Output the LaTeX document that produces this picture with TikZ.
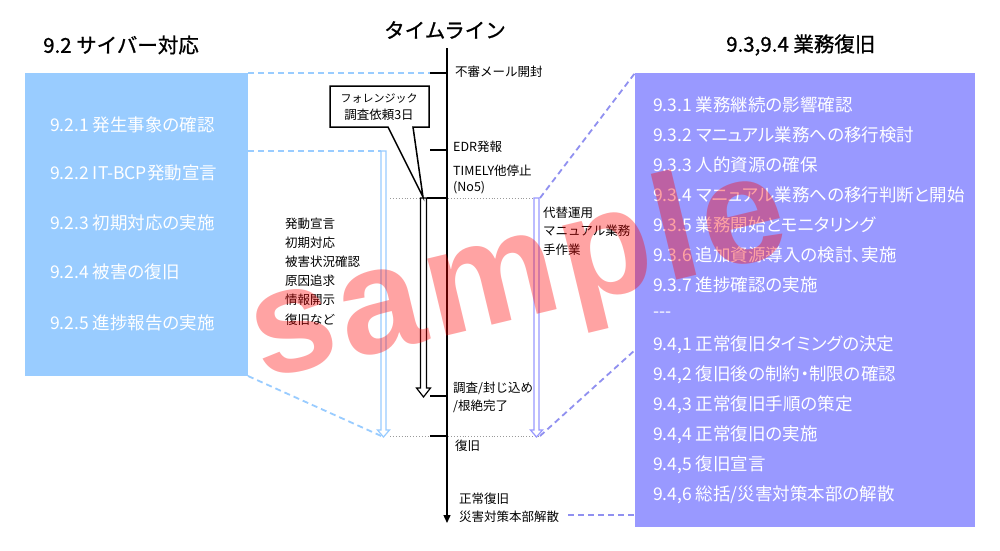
\documentclass[tikz,border=0pt]{standalone}
\usepackage{fontspec}
\setmainfont{Noto Sans CJK JP}
\newfontfamily\boxfont[RawFeature=+palt]{Noto Sans CJK JP}
\newfontfamily\titlefont[FakeBold=1]{Noto Sans CJK JP}
\newfontfamily\wmfont[LetterSpace=4]{Liberation Sans}
\usetikzlibrary{arrows.meta}
\definecolor{lblue}{HTML}{99CCFF}
\definecolor{lpurple}{HTML}{9999FF}
\definecolor{dpurple}{HTML}{9090F0}
\definecolor{dotgray}{HTML}{9A9A9A}
\begin{document}
\begin{tikzpicture}[x=1pt,y=-1pt,
  title/.style={anchor=west,inner sep=0,font=\titlefont\fontsize{20.5}{24}\selectfont},
  boxitem/.style={anchor=west,inner sep=0,text=white,font=\boxfont\fontsize{17.5}{21}\selectfont},
  small/.style={anchor=west,inner sep=0,font=\fontsize{12.5}{15}\selectfont},
  bluedash/.style={draw=lblue,line width=1.8pt,dash pattern=on 6pt off 4pt},
  purpdash/.style={draw=dpurple,line width=1.8pt,dash pattern=on 6pt off 4pt},
  dotline/.style={draw=dotgray,line width=0.9pt,dotted},
  tick/.style={draw=black,line width=1.2pt},
  hollowblue/.style={draw=lblue,fill=white,line width=1.2pt},
  hollowpurp/.style={draw=lpurple,fill=white,line width=1.2pt},
  hollowblack/.style={draw=black,fill=white,line width=1.2pt}
]
\useasboundingbox (0,0) rectangle (1000,550);
\fill[white] (0,0) rectangle (1000,550);

% titles
\node[title] (t1) at (43,45) {9.2 サイバー対応};
\node[title,anchor=center] (t2) at (445,30) {タイムライン};
\node[title] (t3) at (726,45) {9.3,9.4 業務復旧};

% left box
\path[fill=lblue] (25,73) rectangle (248,376);
\coordinate (lne) at (248,73);
\coordinate (lmid) at (248,151);
\coordinate (lse) at (248,376);
\node[boxitem] (l1) at (50,125) {9.2.1 発生事象の確認};
\node[boxitem] (l2) at (50,173) {9.2.2 IT-BCP発動宣言};
\node[boxitem] (l3) at (50,223) {9.2.3 初期対応の実施};
\node[boxitem] (l4) at (50,272) {9.2.4 被害の復旧};
\node[boxitem] (l5) at (50,323) {9.2.5 進捗報告の実施};

% right box
\path[fill=lpurple] (635,73) rectangle (975,527);
\coordinate (rnw) at (635,73);
\coordinate (rmid) at (635,350);
\coordinate (rlow) at (635,515);
\foreach \i/\t in {0/{9.3.1 業務継続の影響確認},1/{9.3.2 マニュアル業務への移行検討},2/{9.3.3 人的資源の確保},3/{9.3.4 マニュアル業務への移行判断と開始},4/{9.3.5 業務開始とモニタリング},5/{9.3.6 追加資源導入の検討、実施},6/{9.3.7 進捗確認の実施},7/{-{}-{}-},8/{9.4,1 正常復旧タイミングの決定},9/{9.4,2 復旧後の制約・制限の確認},10/{9.4,3 正常復旧手順の策定},11/{9.4,4 正常復旧の実施},12/{9.4,5 復旧宣言},13/{9.4,6 総括/災害対策本部の解散}}
  \node[boxitem] (r\i) at (653,105+30*\i) {\t};

% dotted level lines
\coordinate (d1a) at (390,198); \coordinate (d1b) at (540,198);
\coordinate (d2a) at (390,436); \coordinate (d2b) at (540,436);
\draw[dotline] (d1a) -- (d1b);
\draw[dotline] (d2a) -- (d2b);

% blue hollow arrow
\draw[hollowblue] (381,151) -- (386,151) -- (386,430) -- (389.5,430) -- (383.5,437) -- (377.5,430) -- (381,430) -- cycle;
\coordinate (btop) at (381,151);
\coordinate (btip) at (383.5,437);
% purple hollow arrow
\draw[hollowpurp] (534,198) -- (539,198) -- (539,430) -- (542.5,430) -- (536.5,437) -- (530.5,430) -- (534,430) -- cycle;
\coordinate (ptop) at (540,198);
\coordinate (ptip) at (540,436);

% dashed connectors
\coordinate (tk1) at (430,73);
\draw[bluedash] (lne) -- (tk1);
\draw[bluedash] (lmid) -- (btop);
\draw[bluedash] (lse) -- (btip);
\draw[purpdash] (ptop) -- (rnw);
\draw[purpdash] (ptip) -- (rmid);
\coordinate (pend) at (568,515);
\draw[purpdash] (pend) -- (rlow);

% black hollow arrow
\draw[hollowblack] (420.5,198) -- (426.5,198) -- (426.5,388) -- (430.5,388) -- (423.5,397) -- (416.5,388) -- (420.5,388) -- cycle;

% timeline
\coordinate (tl0) at (447,48);
\coordinate (tl1) at (447,523);
\draw[line width=1.3pt,-{Triangle[width=7pt,length=8pt]}] (tl0) -- (tl1);
\draw[tick] (430,73) -- (447,73);
\draw[tick] (430,150) -- (447,150);
\draw[tick] (426.5,198) -- (447,198);
\draw[tick] (430,396) -- (447,396);
\draw[tick] (430,436) -- (447,436);

% callout
\draw[fill=white,line width=1.5pt,line join=miter] (330,86) -- (429,86) -- (429,127) -- (413,127) -- (423,197) -- (388,127) -- (330,127) -- cycle;
\node[inner sep=0,font=\fontsize{11}{13}\selectfont] (c1) at (379,98) {フォレンジック};
\node[inner sep=0,font=\fontsize{12.5}{15}\selectfont] (c2) at (379,115) {調査依頼3日};

% timeline labels
\node[small] (e1) at (455,72) {不審メール開封};
\node[small] (e2) at (453,147) {EDR発報};
\node[small] (e3) at (453,171) {TIMELY他停止};
\node[small] (e4) at (453,188) {(No5)};
\node[small] (e5) at (453,388) {調査/封じ込め};
\node[small] (e6) at (453,406) {/根絶完了};
\node[small] (e7) at (455,446) {復旧};
\node[small] (e8) at (459,499) {正常復旧};
\node[small] (e9) at (459,517) {災害対策本部解散};

% left list
\foreach \i/\t/\y in {1/発動宣言/224,2/初期対応/243,3/被害状況確認/262,4/原因追求/281,5/情報開示/300,6/復旧など/320}
  \node[small] (m\i) at (285,\y) {\t};
% right list
\node[small] (a1) at (543,213) {代替運用};
\node[small] (a2) at (543,231) {マニュアル業務};
\node[small] (a3) at (543,250) {手作業};

% watermark
\node[inner sep=0,anchor=base west,rotate=13.5,text=red,text opacity=0.36,font=\wmfont\bfseries\fontsize{150}{150}\selectfont] (wm) at (262,380) {sample};
\end{tikzpicture}
\end{document}
